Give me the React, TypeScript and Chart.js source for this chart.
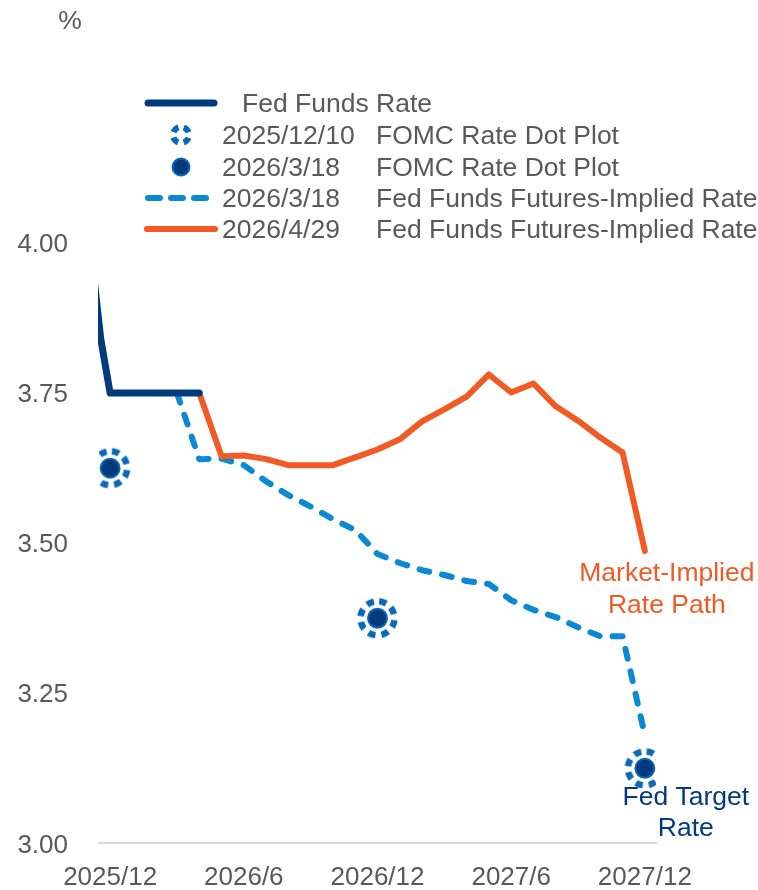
import React, { useEffect, useRef } from 'react';
import { Chart, registerables } from 'chart.js';

Chart.register(...registerables);

// ---------- data ----------
const monthLabels = [
  '2025/12', '2026/1', '2026/2', '2026/3', '2026/4', '2026/5', '2026/6', '2026/7', '2026/8',
  '2026/9', '2026/10', '2026/11', '2026/12', '2027/1', '2027/2', '2027/3', '2027/4', '2027/5',
  '2027/6', '2027/7', '2027/8', '2027/9', '2027/10', '2027/11', '2027/12',
];
const tickMonths = [0, 6, 12, 18, 24];
const yTicks = [3.0, 3.25, 3.5, 3.75, 4.0];

const fedFundsMonths = [-0.9, -0.42, 0, 4];
const fedFundsRate = [4.0, 3.84, 3.75, 3.75];

const futuresMarMonths = [3, 4, 5, 6, 7, 8, 9, 10, 11, 12, 13, 14, 15, 16, 17, 18, 19, 20, 21, 22, 23, 24];
const futuresMarRate = [
  3.75, 3.64, 3.641, 3.63, 3.603, 3.58, 3.561, 3.54, 3.522, 3.482, 3.467, 3.455,
  3.447, 3.437, 3.432, 3.405, 3.389, 3.377, 3.36, 3.345, 3.345, 3.18,
];

const futuresAprMonths = [4, 5, 6, 7, 8, 9, 10, 11, 12, 13, 14, 15, 16, 17, 18, 19, 20, 21, 22, 23, 24];
const futuresAprRate = [
  3.75, 3.645, 3.646, 3.64, 3.63, 3.63, 3.63, 3.643, 3.656, 3.673, 3.703, 3.723,
  3.744, 3.781, 3.751, 3.766, 3.728, 3.704, 3.676, 3.651, 3.487,
];

const dotMonths = [0, 12, 24];
const dotPlotDec2025 = [3.625, 3.375, 3.125];
const dotPlotMar2026 = [3.625, 3.375, 3.125];

const legendRows = [
  { date: '', label: 'Fed Funds Rate' },
  { date: '2025/12/10', label: 'FOMC Rate Dot Plot' },
  { date: '2026/3/18', label: 'FOMC Rate Dot Plot' },
  { date: '2026/3/18', label: 'Fed Funds Futures-Implied Rate' },
  { date: '2026/4/29', label: 'Fed Funds Futures-Implied Rate' },
];

// ---------- styles ----------
const NAVY = '#033A7E';
const DOT_BLUE = '#0A68B6';
const DASH_BLUE = '#0B8AD3';
const ORANGE = '#F15A24';
const TEXT = '#595959';
const FONT_FAMILY = '"Liberation Sans", Arial, sans-serif';
const FS = 26;
const FS_TEXT = 26.5;

const zip = (xs: number[], ys: number[]) => xs.map((x, i) => ({ x, y: ys[i] }));

function drawDashedRing(ctx: CanvasRenderingContext2D, cx: number, cy: number, r: number, lw: number, n: number, color: string, start: number) {
  const circ = 2 * Math.PI * r;
  const period = circ / n;
  ctx.save();
  ctx.strokeStyle = color;
  ctx.lineWidth = lw;
  ctx.lineCap = 'butt';
  ctx.setLineDash([period * 0.55, period * 0.45]);
  ctx.beginPath();
  ctx.arc(cx, cy, r, start, start + Math.PI * 2);
  ctx.stroke();
  ctx.restore();
}

function makeRing(r: number, lw: number, n: number, color: string) {
  const size = Math.ceil((r + lw) * 2 + 2);
  const c = document.createElement('canvas');
  c.width = size;
  c.height = size;
  const ctx = c.getContext('2d')!;
  drawDashedRing(ctx, size / 2, size / 2, r, lw, n, color, -Math.PI / 2 + 0.1);
  return c;
}

const overlayPlugin = {
  id: 'overlay',
  afterDraw(chart: any) {
    const ctx: CanvasRenderingContext2D = chart.ctx;
    const xs = chart.scales.x;
    const ys = chart.scales.y;
    ctx.save();
    ctx.font = `${FS_TEXT}px ${FONT_FAMILY}`;
    ctx.textBaseline = 'middle';
    const tOff = 2;

    // unit
    ctx.fillStyle = TEXT;
    ctx.textAlign = 'center';
    ctx.fillText('%', 70, 20 + tOff);

    // legend
    const rowY = [103, 135, 167, 198, 229];
    ctx.lineCap = 'round';
    ctx.strokeStyle = NAVY;
    ctx.lineWidth = 7;
    ctx.beginPath();
    ctx.moveTo(148, rowY[0]);
    ctx.lineTo(214, rowY[0]);
    ctx.stroke();

    drawDashedRing(ctx, 181, rowY[1], 8, 6, 4, DOT_BLUE, -Math.PI / 2 + 0.35);

    ctx.beginPath();
    ctx.arc(181, rowY[2], 8.5, 0, Math.PI * 2);
    ctx.fillStyle = NAVY;
    ctx.fill();
    ctx.lineWidth = 2;
    ctx.strokeStyle = DOT_BLUE;
    ctx.stroke();

    ctx.strokeStyle = DASH_BLUE;
    ctx.lineWidth = 6;
    ctx.setLineDash([12, 11]);
    ctx.beginPath();
    ctx.moveTo(148, rowY[3]);
    ctx.lineTo(208, rowY[3]);
    ctx.stroke();
    ctx.setLineDash([]);

    ctx.strokeStyle = ORANGE;
    ctx.lineWidth = 6;
    ctx.beginPath();
    ctx.moveTo(147, rowY[4]);
    ctx.lineTo(215, rowY[4]);
    ctx.stroke();

    ctx.fillStyle = TEXT;
    ctx.textAlign = 'left';
    legendRows.forEach((row, i) => {
      if (i === 0) {
        ctx.fillText(row.label, 242, rowY[i] + tOff);
      } else {
        ctx.fillText(row.date, 222, rowY[i] + tOff);
        ctx.fillText(row.label, 376, rowY[i] + tOff);
      }
    });

    // annotations
    const lastX = xs.getPixelForValue(futuresAprMonths[futuresAprMonths.length - 1]);
    const lastOrangeY = ys.getPixelForValue(futuresAprRate[futuresAprRate.length - 1]);
    ctx.textAlign = 'center';
    ctx.fillStyle = ORANGE;
    ctx.fillText('Market-Implied', lastX + 22, lastOrangeY + 21 + tOff);
    ctx.fillText('Rate Path', lastX + 22, lastOrangeY + 53 + tOff);

    const dotX = xs.getPixelForValue(dotMonths[dotMonths.length - 1]);
    const dotY = ys.getPixelForValue(dotPlotMar2026[dotPlotMar2026.length - 1]);
    ctx.fillStyle = NAVY;
    ctx.fillText('Fed Target', dotX + 41, dotY + 29);
    ctx.fillText('Rate', dotX + 41, dotY + 60);
    ctx.restore();
  },
};

export default function App() {
  const ref = useRef<HTMLCanvasElement | null>(null);

  useEffect(() => {
    if (!ref.current) return;
    const ring = makeRing(17, 6.5, 8, DOT_BLUE);
    const chart = new Chart(ref.current, {
      type: 'line',
      data: {
        datasets: [
          {
            label: '2026/3/18 FOMC Rate Dot Plot',
            data: zip(dotMonths, dotPlotMar2026),
            showLine: false,
            pointStyle: 'circle',
            pointRadius: 9.5,
            pointBorderWidth: 2,
            pointBackgroundColor: NAVY,
            pointBorderColor: DOT_BLUE,
            order: 0,
          },
          {
            label: '2025/12/10 FOMC Rate Dot Plot',
            data: zip(dotMonths, dotPlotDec2025),
            showLine: false,
            pointStyle: ring as any,
            pointRadius: 20,
            order: 1,
          },
          {
            label: 'Fed Funds Rate',
            data: zip(fedFundsMonths, fedFundsRate),
            borderColor: NAVY,
            borderWidth: 7,
            pointRadius: 0,
            borderJoinStyle: 'round',
            borderCapStyle: 'round',
            clip: { left: 1, top: 5, right: 5, bottom: 5 },
            order: 2,
          },
          {
            label: '2026/4/29 Fed Funds Futures-Implied Rate',
            data: zip(futuresAprMonths, futuresAprRate),
            borderColor: ORANGE,
            borderWidth: 6,
            pointRadius: 0,
            borderJoinStyle: 'round',
            borderCapStyle: 'round',
            order: 3,
          },
          {
            label: '2026/3/18 Fed Funds Futures-Implied Rate',
            data: zip(futuresMarMonths, futuresMarRate),
            borderColor: DASH_BLUE,
            borderWidth: 6,
            borderDash: [10, 13],
            borderCapStyle: 'round',
            borderJoinStyle: 'round',
            pointRadius: 0,
            order: 4,
          },
        ],
      },
      options: {
        animation: false,
        responsive: false,
        devicePixelRatio: 1,
        layout: { padding: { left: 0, right: 102, top: 243, bottom: 0 } },
        plugins: {
          legend: { display: false },
          tooltip: { enabled: false },
        },
        scales: {
          x: {
            type: 'linear',
            min: -0.5,
            max: 24.5,
            afterBuildTicks: (scale: any) => {
              scale.ticks = tickMonths.map((v) => ({ value: v }));
            },
            afterFit: (scale: any) => {
              scale.height = 46;
            },
            grid: { display: false, drawTicks: false },
            border: { display: true, color: '#D9D9D9', width: 2 },
            ticks: {
              autoSkip: false,
              maxRotation: 0,
              padding: 19,
              color: TEXT,
              font: { family: FONT_FAMILY, size: FS },
              callback: (v: any) => monthLabels[Math.round(Number(v))] ?? '',
            },
          },
          y: {
            min: 3,
            max: 4,
            afterBuildTicks: (scale: any) => {
              scale.ticks = yTicks.map((v) => ({ value: v }));
            },
            afterFit: (scale: any) => {
              scale.width = 99;
            },
            grid: { display: false, drawTicks: false },
            border: { display: false },
            ticks: {
              padding: 31,
              labelOffset: 2,
              color: TEXT,
              font: { family: FONT_FAMILY, size: FS },
              callback: (v: any) => Number(v).toFixed(2),
            },
          },
        },
      },
      plugins: [overlayPlugin],
    });
    return () => chart.destroy();
  }, []);

  return (
    <div style={{ position: 'absolute', left: 0, top: 0, width: 758, height: 890, background: '#fff' }}>
      <canvas ref={ref} width={758} height={890} />
    </div>
  );
}
